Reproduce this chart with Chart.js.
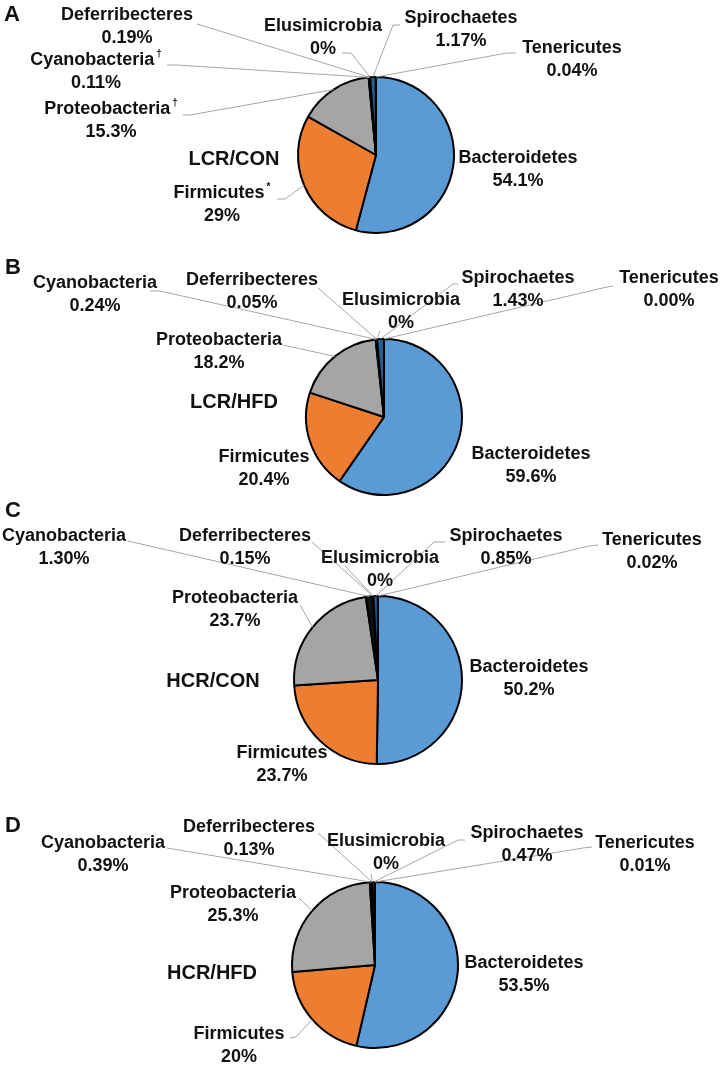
<!DOCTYPE html>
<html>
<head>
<meta charset="utf-8">
<script src="https://cdn.jsdelivr.net/npm/chart.js@4.4.1/dist/chart.umd.min.js"></script>
<style>
  html, body { margin: 0; padding: 0; background: #fff; }
  #wrap { position: relative; width: 721px; height: 1071px; }
  #wrap canvas { position: absolute; left: 0; top: 0; }
</style>
</head>
<body>
<div id="wrap">
  <canvas id="pieA" width="721" height="1071"></canvas>
  <canvas id="pieB" width="721" height="1071"></canvas>
  <canvas id="pieC" width="721" height="1071"></canvas>
  <canvas id="pieD" width="721" height="1071"></canvas>
</div>
<script>
// Données (% de chaque phylum)
const categories = ['Bacteroidetes', 'Firmicutes', 'Proteobacteria', 'Cyanobacteria',
    'Deferribecteres', 'Elusimicrobia', 'Spirochaetes', 'Tenericutes'];
const colors = ['#5B9BD5', '#ED7D31', '#A5A5A5', '#FFC000', '#4472C4', '#70AD47', '#255E91', '#9E480E'];
// dans le panneau C la part Cyanobacteria apparaît noire
const colorsC = ['#5B9BD5', '#ED7D31', '#A5A5A5', '#111111', '#4472C4', '#70AD47', '#255E91', '#9E480E'];

const valuesLCRCON = [54.1, 29, 15.3, 0.11, 0.19, 0, 1.17, 0.04];
const valuesLCRHFD = [59.6, 20.4, 18.2, 0.24, 0.05, 0, 1.43, 0.00];
const valuesHCRCON = [50.2, 23.7, 23.7, 1.30, 0.15, 0, 0.85, 0.02];
const valuesHCRHFD = [53.5, 20, 25.3, 0.39, 0.13, 0, 0.47, 0.01];

const textLCRCON = ['54.1%', '29%', '15.3%', '0.11%', '0.19%', '0%', '1.17%', '0.04%'];
const textLCRHFD = ['59.6%', '20.4%', '18.2%', '0.24%', '0.05%', '0%', '1.43%', '0.00%'];
const textHCRCON = ['50.2%', '23.7%', '23.7%', '1.30%', '0.15%', '0%', '0.85%', '0.02%'];
const textHCRHFD = ['53.5%', '20%', '25.3%', '0.39%', '0.13%', '0%', '0.47%', '0.01%'];

// marques de significativité (exposant)
const marksLCRCON = ['', '*', '\u2020', '\u2020', '', '', '', ''];
const noMarks = ['', '', '', '', '', '', '', ''];

// Mise en page de chaque panneau (positions des étiquettes, lignes de rappel)
const layoutA = {
    cx: 376, cy: 155, r: 78, letter: ['A', 12, 15], title: ['LCR/CON', 234, 159],
    labels: [
        { x: 518, y: 158 },
        { x: 222, y: 193, line: [[277, 199], [285, 199]] },
        { x: 111, y: 109, line: [[183, 115], [190, 115]] },
        { x: 96, y: 60, line: [[167, 65], [177, 65]] },
        { x: 127, y: 15, line: [[197, 24]] },
        { x: 323, y: 26, line: [[342, 53], [351, 53]] },
        { x: 461, y: 18, line: [[400, 25], [393, 25]] },
        { x: 572, y: 48, line: [[516, 53], [507, 53]] }
    ]
};
const layoutB = {
    cx: 384, cy: 417, r: 78, letter: ['B', 13, 268], title: ['LCR/HFD', 234, 402],
    labels: [
        { x: 531, y: 454 },
        { x: 264, y: 457 },
        { x: 219, y: 340, line: [[283, 345]] },
        { x: 95, y: 283, line: [[150, 291], [160, 291]] },
        { x: 252, y: 280, line: [[318, 288]] },
        { x: 401, y: 300, line: [[380, 331]] },
        { x: 518, y: 278, line: [[458, 284], [453, 284]] },
        { x: 669, y: 278, line: [[613, 286], [607, 287]] }
    ]
};
const layoutC = {
    cx: 378, cy: 680, r: 84, letter: ['C', 13, 511], title: ['HCR/CON', 213, 681],
    labels: [
        { x: 529, y: 667 },
        { x: 282, y: 753 },
        { x: 235, y: 598, line: [[300, 605]] },
        { x: 64, y: 536, line: [[128, 541]] },
        { x: 245, y: 536, line: [[312, 542]] },
        { x: 380, y: 558, line: [[345, 566]] },
        { x: 506, y: 536, line: [[445, 542], [434, 542]] },
        { x: 652, y: 540, line: [[598, 545], [589, 546]] }
    ]
};
const layoutD = {
    cx: 375, cy: 965, r: 83, letter: ['D', 13, 826], title: ['HCR/HFD', 212, 973],
    labels: [
        { x: 524, y: 963 },
        { x: 239, y: 1034, line: [[290, 1038], [296, 1037]] },
        { x: 233, y: 893, line: [[299, 898]] },
        { x: 103, y: 843, line: [[167, 848]] },
        { x: 249, y: 827, line: [[318, 833]] },
        { x: 386, y: 841, line: [[371, 874]] },
        { x: 527, y: 833, line: [[465, 840], [458, 840]] },
        { x: 645, y: 843, line: [[592, 847], [583, 848]] }
    ]
};

const FONT = '"Liberation Sans", Arial, sans-serif';
const LINE_H = 23;

// Plugin : étiquettes avec lignes de rappel
const leaderLabels = {
    id: 'leaderLabels',
    afterDraw(chart, args, opts) {
        const ctx = chart.ctx;
        const meta = chart.getDatasetMeta(0);
        const lay = opts.layout;
        ctx.save();

        // lignes de rappel
        ctx.strokeStyle = '#A6A6A6';
        ctx.lineWidth = 1;
        lay.labels.forEach((lab, i) => {
            if (!lab.line) return;
            const arc = meta.data[i];
            const p = arc.getProps(['x', 'y', 'startAngle', 'endAngle', 'outerRadius'], true);
            const mid = (p.startAngle + p.endAngle) / 2;
            const ex = p.x + Math.cos(mid) * p.outerRadius;
            const ey = p.y + Math.sin(mid) * p.outerRadius;
            ctx.beginPath();
            ctx.moveTo(lab.line[0][0], lab.line[0][1]);
            for (let k = 1; k < lab.line.length; k++) ctx.lineTo(lab.line[k][0], lab.line[k][1]);
            ctx.lineTo(ex, ey);
            ctx.stroke();
        });

        // textes
        ctx.fillStyle = '#111';
        ctx.textBaseline = 'middle';
        lay.labels.forEach((lab, i) => {
            const name = chart.data.labels[i];
            const mark = opts.marks[i];
            ctx.font = 'bold 18px ' + FONT;
            const w1 = ctx.measureText(name).width;
            ctx.font = 'bold 10px ' + FONT;
            const w2 = mark ? ctx.measureText(mark).width + 2 : 0;
            const x0 = lab.x - (w1 + w2) / 2;
            ctx.textAlign = 'left';
            ctx.font = 'bold 18px ' + FONT;
            ctx.fillText(name, x0, lab.y);
            if (mark) {
                ctx.font = 'bold 10px ' + FONT;
                ctx.fillText(mark, x0 + w1 + 2, lab.y - 6);
            }
            ctx.font = 'bold 18px ' + FONT;
            ctx.textAlign = 'center';
            ctx.fillText(opts.texts[i], lab.x, lab.y + LINE_H);
        });

        // titre du groupe et lettre du panneau
        ctx.textAlign = 'center';
        ctx.font = 'bold 20px ' + FONT;
        ctx.fillText(lay.title[0], lay.title[1], lay.title[2]);
        ctx.font = 'bold 22px ' + FONT;
        ctx.fillText(lay.letter[0], lay.letter[1], lay.letter[2]);
        ctx.restore();
    }
};

function makePie(id, values, texts, marks, lay, sliceColors) {
    const W = 721, H = 1071;
    new Chart(document.getElementById(id), {
        type: 'pie',
        data: {
            labels: categories,
            datasets: [{
                data: values,
                backgroundColor: sliceColors,
                borderColor: '#000',
                borderWidth: 2,
                hoverBorderWidth: 2,
                hoverOffset: 0
            }]
        },
        options: {
            responsive: false,
            animation: false,
            devicePixelRatio: 1,
            events: [],
            layout: {
                padding: {
                    left: lay.cx - lay.r - 1,
                    right: W - lay.cx - lay.r - 1,
                    top: lay.cy - lay.r - 1,
                    bottom: H - lay.cy - lay.r - 1
                }
            },
            plugins: {
                legend: { display: false },
                tooltip: { enabled: false },
                leaderLabels: { layout: lay, texts: texts, marks: marks }
            }
        },
        plugins: [leaderLabels]
    });
}

makePie('pieA', valuesLCRCON, textLCRCON, marksLCRCON, layoutA, colors);
makePie('pieB', valuesLCRHFD, textLCRHFD, noMarks, layoutB, colors);
makePie('pieC', valuesHCRCON, textHCRCON, noMarks, layoutC, colorsC);
makePie('pieD', valuesHCRHFD, textHCRHFD, noMarks, layoutD, colors);
</script>
</body>
</html>
